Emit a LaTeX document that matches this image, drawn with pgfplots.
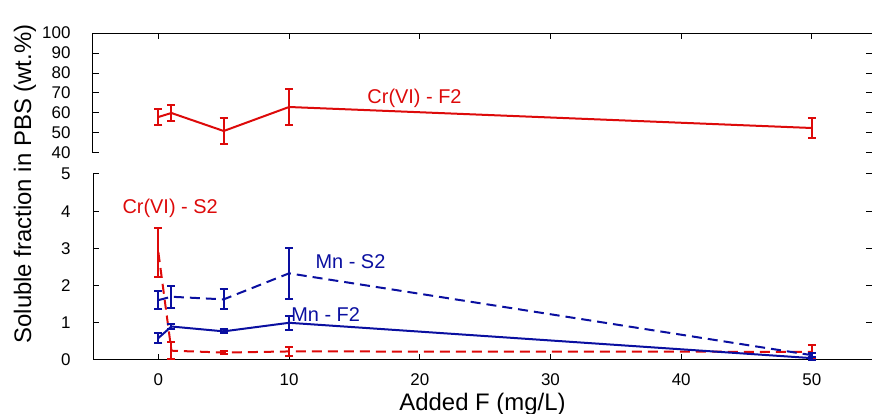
\documentclass[border=0pt]{standalone}
\usepackage{fontspec}
\setmainfont{Liberation Sans}
\usepackage{pgfplots}
\pgfplotsset{compat=1.18}
\definecolor{crred}{HTML}{DD0A0A}
\definecolor{mnblue}{HTML}{0A0FA0}

\pgfplotsset{
  brk/.style={
    scale only axis, width=779bp,
    xmin=-5, xmax=54.6,
    xtick={0,10,...,50},
    axis line style={draw=none},
    tick style={black, line width=1bp},
    major tick length=6bp,
    tick align=inside,
    ytick pos=both, yticklabel pos=left,
    /pgf/number format/assume math mode=true,
    yticklabel style={font=\fontsize{17}{20}\selectfont, anchor=east, xshift=-19bp},
    xticklabel style={font=\fontsize{17}{20}\selectfont, anchor=north, yshift=-10bp},
    clip=false,
    every axis plot/.append style={line width=2bp},
    error bars/y dir=both, error bars/y explicit,
    error bars/error bar style={solid, line width=2bp},
    error bars/error mark options={solid, rotate=90, line width=2bp, mark size=4bp},
  },
}
\tikzset{lbl/.style={font=\fontsize{20}{24}\selectfont, inner sep=0pt}}

\begin{document}
\begin{tikzpicture}
% upper part of the broken axis
\begin{axis}[brk, name=top, at={(0,0)}, anchor=north west,
  height=120bp, ymin=40, ymax=100, ytick={40,50,...,100},
  xtick pos=right, xticklabels={}]
  \draw[black, line width=1bp] (rel axis cs:0,0) -- (rel axis cs:0,1) -- (rel axis cs:1,1);
  \addplot[crred] coordinates {
    (0,58) +- (0,4)
    (1,60) +- (0,4)
    (5,51) +- (0,6.5)
    (10,63) +- (0,9)
    (50,52.5) +- (0,5)
  };
  \node[lbl, text=crred] at (axis cs:19.6,67.5) {Cr(VI) - F2};
\end{axis}
% lower part
\begin{axis}[brk, name=bot, at={(top.south west)}, yshift=-21bp, anchor=north west,
  height=186bp, ymin=0, ymax=5, ytick={0,...,5},
  xtick pos=left,
  xlabel={Added F (mg/L)},
  xlabel style={font=\fontsize{24}{28}\selectfont, yshift=-1bp}]
  \draw[black, line width=1bp] (rel axis cs:0,1) -- (rel axis cs:0,0) -- (rel axis cs:1,0);
  \addplot[crred, dash pattern=on 10bp off 6bp] coordinates {
    (0,2.9) +- (0,0.66)
    (1,0.25) +- (0,0.23)
    (5,0.2) +- (0,0.05)
    (10,0.23) +- (0,0.12)
    (50,0.22) +- (0,0.18)
  };
  \addplot[mnblue, dash pattern=on 10bp off 6bp] coordinates {
    (0,1.61) +- (0,0.25)
    (1,1.7) +- (0,0.29)
    (5,1.63) +- (0,0.27)
    (10,2.33) +- (0,0.68)
    (50,0.13) +- (0,0.05)
  };
  \addplot[mnblue] coordinates {
    (0,0.59) +- (0,0.13)
    (1,0.9) +- (0,0.07)
    (5,0.77) +- (0,0.05)
    (10,1.0) +- (0,0.19)
    (50,0.05) +- (0,0.04)
  };
  \node[lbl, text=crred] at (axis cs:0.9,4.08) {Cr(VI) - S2};
  \node[lbl, text=mnblue] at (axis cs:14.7,2.64) {Mn - S2};
  \node[lbl, text=mnblue] at (axis cs:12.8,1.22) {Mn - F2};
\end{axis}
\node[rotate=90, font=\fontsize{24}{28}\selectfont] at ([xshift=-68bp, yshift=-151bp]top.north west) {Soluble fraction in PBS (wt.\%)};
\pgfresetboundingbox
\path[use as bounding box] ([xshift=-93bp, yshift=33bp]top.north west) rectangle ([xshift=779bp, yshift=-381bp]top.north west);
\end{tikzpicture}
\end{document}
